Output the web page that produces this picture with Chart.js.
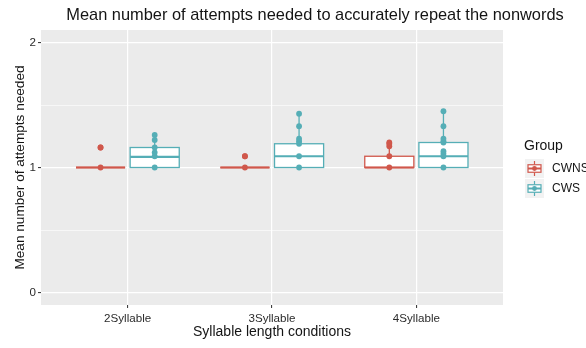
<!DOCTYPE html>
<html>
<head>
<meta charset="utf-8">
<script src="https://cdn.jsdelivr.net/npm/chart.js@4.4.0/dist/chart.umd.min.js"></script>
<style>
  html, body { margin: 0; padding: 0; background: #fff; }
  #wrap { width: 586px; height: 348px; position: relative; }
</style>
</head>
<body>
<div id="wrap"><canvas id="chart" width="586" height="348"></canvas></div>
<script>
// Data
const categories = ['2Syllable', '3Syllable', '4Syllable'];
const groups = ['CWNS', 'CWS'];
const yTicks = [0, 0.5, 1, 1.5, 2];

// box statistics per syllable condition
const cwnsLow = [1, 1, 1];
const cwnsQ1 = [1, 1, 1];
const cwnsMedian = [1, 1, 1];
const cwnsQ3 = [1, 1, 1.09];
const cwnsHigh = [1, 1, 1.2];

const cwsLow = [1, 1, 1];
const cwsQ1 = [1, 1, 1];
const cwsMedian = [1.085, 1.09, 1.09];
const cwsQ3 = [1.16, 1.19, 1.2];
const cwsHigh = [1.26, 1.43, 1.45];

// individual participant means
const cwnsPoints = [
  [1, 1.16, 1.16],
  [1, 1.09, 1.09],
  [1, 1.09, 1.17, 1.19, 1.2]
];
const cwsPoints = [
  [1, 1.09, 1.12, 1.16, 1.22, 1.26],
  [1, 1.09, 1.19, 1.21, 1.23, 1.33, 1.43],
  [1, 1.09, 1.11, 1.13, 1.2, 1.21, 1.23, 1.33, 1.45]
];

const COLORS = {
  CWNS: '#d0574b',
  CWS: '#55aeb6',
  panel: '#ebebeb',
  grid: '#ffffff',
  text: '#141414',
  tick: '#2b2b2b'
};
const FONT = 'Liberation Sans, Arial, sans-serif';

const DODGE = 0.1875;
const BOX_W = 0.34;

const boxStats = [
  { name: 'CWNS', offset: -DODGE, low: cwnsLow, q1: cwnsQ1, med: cwnsMedian, q3: cwnsQ3, high: cwnsHigh },
  { name: 'CWS', offset: DODGE, low: cwsLow, q1: cwsQ1, med: cwsMedian, q3: cwsQ3, high: cwsHigh }
];

const toPoints = (sets, offset) => sets.flatMap((vals, i) => vals.map(v => ({ x: i + 1 + offset, y: v })));

function drawBoxGlyph(ctx, cx, top, bottom, halfW, color) {
  ctx.save();
  ctx.strokeStyle = color;
  ctx.lineWidth = 1.2;
  const h = bottom - top;
  ctx.beginPath();
  ctx.moveTo(cx, top); ctx.lineTo(cx, top + h * 0.25);
  ctx.moveTo(cx, top + h * 0.75); ctx.lineTo(cx, bottom);
  ctx.stroke();
  ctx.fillStyle = '#fff';
  ctx.fillRect(cx - halfW, top + h * 0.25, halfW * 2, h * 0.5);
  ctx.strokeRect(cx - halfW, top + h * 0.25, halfW * 2, h * 0.5);
  ctx.lineWidth = 2;
  ctx.beginPath();
  ctx.moveTo(cx - halfW, top + h * 0.5); ctx.lineTo(cx + halfW, top + h * 0.5);
  ctx.stroke();
  ctx.restore();
}

const ggPlugin = {
  id: 'gg',
  beforeDraw(chart) {
    const { ctx, chartArea: a } = chart;
    ctx.save();
    ctx.fillStyle = '#fff';
    ctx.fillRect(0, 0, chart.width, chart.height);
    ctx.fillStyle = COLORS.panel;
    ctx.fillRect(a.left, a.top, a.right - a.left, a.bottom - a.top);
    ctx.restore();
  },
  beforeDatasetsDraw(chart) {
    const { ctx, scales: { x, y } } = chart;
    ctx.save();
    boxStats.forEach(g => {
      const color = COLORS[g.name];
      categories.forEach((c, i) => {
        const cx = i + 1 + g.offset;
        const px = x.getPixelForValue(cx);
        const xl = x.getPixelForValue(cx - BOX_W / 2);
        const xr = x.getPixelForValue(cx + BOX_W / 2);
        const yq1 = y.getPixelForValue(g.q1[i]);
        const yq3 = y.getPixelForValue(g.q3[i]);
        const ymed = y.getPixelForValue(g.med[i]);
        ctx.strokeStyle = color;
        ctx.lineWidth = 1.3;
        ctx.beginPath();
        ctx.moveTo(px, yq3); ctx.lineTo(px, y.getPixelForValue(g.high[i]));
        ctx.moveTo(px, yq1); ctx.lineTo(px, y.getPixelForValue(g.low[i]));
        ctx.stroke();
        ctx.fillStyle = '#fff';
        ctx.fillRect(xl, yq3, xr - xl, yq1 - yq3);
        ctx.strokeRect(xl, yq3, xr - xl, yq1 - yq3);
        ctx.lineWidth = 2.2;
        ctx.beginPath();
        ctx.moveTo(xl, ymed); ctx.lineTo(xr, ymed);
        ctx.stroke();
      });
    });
    ctx.restore();
  },
  afterDraw(chart) {
    const { ctx } = chart;
    ctx.save();
    // title
    ctx.fillStyle = COLORS.text;
    ctx.font = '16.4px ' + FONT;
    ctx.textAlign = 'center';
    ctx.textBaseline = 'middle';
    ctx.fillText('Mean number of attempts needed to accurately repeat the nonwords', 315, 15);
    // legend
    ctx.textAlign = 'left';
    ctx.font = '14px ' + FONT;
    ctx.fillText('Group', 524, 146);
    ctx.font = '12px ' + FONT;
    groups.forEach((g, k) => {
      const top = 159 + k * 20;
      ctx.fillStyle = '#f2f2f2';
      ctx.fillRect(525, top, 19, 19);
      drawBoxGlyph(ctx, 534.5, top + 2, top + 17, 6.5, COLORS[g]);
      ctx.fillStyle = COLORS[g];
      ctx.beginPath();
      ctx.arc(534.5, top + 9.5, 2.4, 0, Math.PI * 2);
      ctx.fill();
      ctx.fillStyle = COLORS.text;
      ctx.fillText(g, 552, top + 10);
    });
    ctx.restore();
  }
};

new Chart(document.getElementById('chart'), {
  type: 'scatter',
  data: {
    datasets: [
      {
        label: 'CWNS',
        data: toPoints(cwnsPoints, -DODGE),
        backgroundColor: COLORS.CWNS,
        borderWidth: 0,
        pointRadius: 2.9
      },
      {
        label: 'CWS',
        data: toPoints(cwsPoints, DODGE),
        backgroundColor: COLORS.CWS,
        borderWidth: 0,
        pointRadius: 2.9
      }
    ]
  },
  options: {
    responsive: false,
    animation: false,
    layout: { padding: { top: 30, right: 83, bottom: 0, left: 0 } },
    plugins: {
      legend: { display: false },
      tooltip: { enabled: false },
      title: { display: false }
    },
    scales: {
      x: {
        type: 'linear',
        min: 0.4,
        max: 3.6,
        afterBuildTicks: s => { s.ticks = categories.map((c, i) => ({ value: i + 1 })); },
        afterFit: s => { s.height = 43; },
        grid: { color: COLORS.grid, lineWidth: 1.2, tickLength: 3, tickColor: COLORS.tick, tickWidth: 1 },
        border: { display: false },
        ticks: {
          callback: v => categories[v - 1] || '',
          color: COLORS.tick,
          font: { family: FONT, size: 11.6 },
          padding: 4,
          maxRotation: 0
        },
        title: {
          display: true,
          text: 'Syllable length conditions',
          color: COLORS.text,
          font: { family: FONT, size: 14 },
          padding: { top: 0, bottom: 7 }
        }
      },
      y: {
        min: -0.1,
        max: 2.1,
        afterBuildTicks: s => { s.ticks = yTicks.map(v => ({ value: v })); },
        afterFit: s => { s.width = 41; },
        grid: {
          color: COLORS.grid,
          lineWidth: ctx => (Number.isInteger(ctx.tick.value) ? 1.2 : 0.6),
          tickLength: 3,
          tickColor: ctx => (Number.isInteger(ctx.tick.value) ? COLORS.tick : 'rgba(0,0,0,0)'),
          tickWidth: 1
        },
        border: { display: false },
        ticks: {
          callback: v => (Number.isInteger(v) ? String(v) : ''),
          color: COLORS.tick,
          font: { family: FONT, size: 11.6 },
          padding: 2
        },
        title: {
          display: true,
          text: 'Mean number of attempts needed',
          color: COLORS.text,
          font: { family: FONT, size: 13.6 },
          padding: { top: 12, bottom: 0 }
        }
      }
    }
  },
  plugins: [ggPlugin]
});
</script>
</body>
</html>
